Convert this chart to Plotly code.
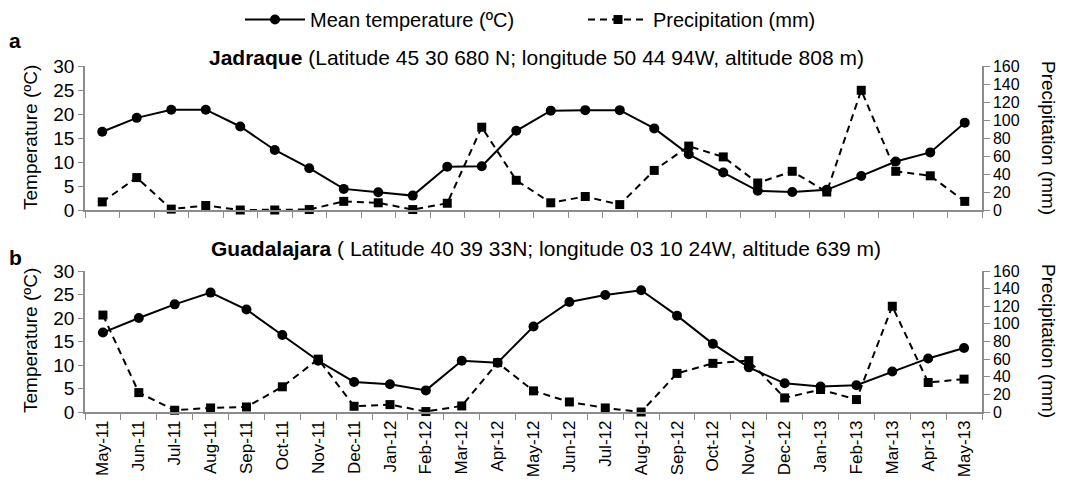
import plotly.graph_objects as go

# ---------------- data ----------------
months = ["May-11", "Jun-11", "Jul-11", "Aug-11", "Sep-11", "Oct-11", "Nov-11",
          "Dec-11", "Jan-12", "Feb-12", "Mar-12", "Apr-12", "May-12", "Jun-12",
          "Jul-12", "Aug-12", "Sep-12", "Oct-12", "Nov-12", "Dec-12", "Jan-13",
          "Feb-13", "Mar-13", "Apr-13", "May-13"]

# Jadraque panel (26 unlabelled sampling points)
jad_index = list(range(1, 27))
jad_temp = [16.3, 19.2, 20.9, 20.9, 17.4, 12.5, 8.7, 4.4, 3.7, 3.0, 9.0, 9.1, 16.5,
            20.7, 20.8, 20.8, 17.0, 11.6, 7.8, 4.0, 3.75, 4.2, 7.1, 10.1, 12.0, 18.2]
jad_prec = [9, 36, 1, 5, 0, 0, 0.5, 9.6, 8, 0.5, 7.5, 92, 33,
            8, 15, 6, 44, 71, 59, 30, 43, 20, 133, 43, 38, 9.6]

# Guadalajara panel
guad_temp = [16.9, 20.0, 22.9, 25.4, 21.8, 16.4, 10.9, 6.4, 5.9, 4.6, 10.9, 10.5, 18.2,
             23.4, 24.9, 25.9, 20.5, 14.5, 9.5, 6.1, 5.4, 5.7, 8.6, 11.4, 13.6]
guad_prec = [110, 22, 2, 4.6, 5.7, 28.6, 60, 6.5, 8.4, 0.5, 6.9, 56, 24,
             11.4, 4.6, 0, 43.8, 55.2, 58.3, 16, 25.5, 14.1, 120, 33.5, 37.3]

temp_ticks = [0, 5, 10, 15, 20, 25, 30]
prec_ticks = [0, 20, 40, 60, 80, 100, 120, 140, 160]

# ---------------- styling ----------------
W, H = 1066, 487
FONT = "Liberation Sans, Arial, sans-serif"
AX = "#8c8c8c"
X0, X1 = 85 / W, 982 / W
TOP = [(H - 210) / H, (H - 66) / H]
BOT = [(H - 412) / H, (H - 271) / H]

temp_line = dict(color="black", width=2)
prec_line = dict(color="black", width=2, dash="7px,5px")
circ = dict(symbol="circle", size=10, color="black")
sq = dict(symbol="square", size=9, color="black")

fig = go.Figure()

# top panel (Jadraque)
fig.add_trace(go.Scatter(x=jad_index, y=jad_temp, mode="lines+markers",
                         name="Mean temperature (ºC)", line=temp_line, marker=circ,
                         xaxis="x2", yaxis="y3", cliponaxis=False, showlegend=True))
fig.add_trace(go.Scatter(x=jad_index, y=jad_prec, mode="lines+markers",
                         name="Precipitation (mm)", line=prec_line, marker=sq,
                         xaxis="x2", yaxis="y4", cliponaxis=False, showlegend=True))
# bottom panel (Guadalajara)
fig.add_trace(go.Scatter(x=months, y=guad_temp, mode="lines+markers",
                         name="Mean temperature (ºC)", line=temp_line, marker=circ,
                         xaxis="x", yaxis="y", cliponaxis=False, showlegend=False))
fig.add_trace(go.Scatter(x=months, y=guad_prec, mode="lines+markers",
                         name="Precipitation (mm)", line=prec_line, marker=sq,
                         xaxis="x", yaxis="y2", cliponaxis=False, showlegend=False))

left_axis = dict(range=[0, 30], tickvals=temp_ticks, showgrid=False, zeroline=False,
                 showline=True, linecolor=AX, linewidth=1.5, ticks="outside",
                 ticklen=5, tickcolor=AX, tickfont=dict(size=19, color="black", family=FONT))
right_axis = dict(range=[0, 160], tickvals=prec_ticks, showgrid=False, zeroline=False,
                  showline=True, linecolor=AX, linewidth=1.5, ticks="outside",
                  ticklen=6, tickcolor=AX, side="right",
                  tickfont=dict(size=16, color="black", family=FONT))

fig.update_layout(
    width=W, height=H,
    margin=dict(l=0, r=0, t=0, b=0, autoexpand=False),
    paper_bgcolor="white", plot_bgcolor="white",
    font=dict(family=FONT, color="black"),
    xaxis=dict(domain=[X0, X1], anchor="y", type="category", range=[-0.5, 24.5],
               tickson="boundaries", ticks="outside", ticklen=6, tickcolor=AX,
               showline=True, linecolor=AX, linewidth=1.5, showgrid=False,
               tickangle=-90, tickfont=dict(size=17, color="black", family=FONT)),
    yaxis=dict(domain=BOT, anchor="x", **left_axis),
    yaxis2=dict(domain=BOT, anchor="x", overlaying="y", **right_axis),
    xaxis2=dict(domain=[X0, X1], anchor="y3", range=[0.5, 26.5], tick0=0.5, dtick=1,
                ticks="outside", ticklen=6, tickcolor=AX, showticklabels=False,
                showline=True, linecolor=AX, linewidth=1.5, showgrid=False, zeroline=False),
    yaxis3=dict(domain=TOP, anchor="x2", **left_axis),
    yaxis4=dict(domain=TOP, anchor="x2", overlaying="y3", **right_axis),
    legend=dict(orientation="h", x=240 / W, xanchor="left", y=1, yanchor="top",
                font=dict(size=20, family=FONT, color="black"),
                itemwidth=60, entrywidth=268, entrywidthmode="pixels",
                bgcolor="rgba(0,0,0,0)"),
    showlegend=True,
)

ann = []
ann.append(dict(text="<b>Jadraque</b> (Latitude 45 30 680 N; longitude 50 44 94W, altitude 808 m)",
                x=536 / W, y=1 - 58 / H, xref="paper", yref="paper", showarrow=False,
                xanchor="center", yanchor="middle", font=dict(size=21, family=FONT)))
ann.append(dict(text="<b>Guadalajara</b> ( Latitude 40 39 33N; longitude 03 10 24W, altitude 639 m)",
                x=546 / W, y=1 - 248 / H, xref="paper", yref="paper", showarrow=False,
                xanchor="center", yanchor="middle", font=dict(size=21, family=FONT)))
ann.append(dict(text="<b>a</b>", x=15 / W, y=1 - 40 / H, xref="paper", yref="paper",
                showarrow=False, xanchor="center", yanchor="middle", font=dict(size=21, family=FONT)))
ann.append(dict(text="<b>b</b>", x=15 / W, y=1 - 257 / H, xref="paper", yref="paper",
                showarrow=False, xanchor="center", yanchor="middle", font=dict(size=21, family=FONT)))
for yc in (138, 341):
    ann.append(dict(text="Temperature (ºC)", x=30 / W, y=1 - yc / H, xref="paper", yref="paper",
                    showarrow=False, textangle=-90, xanchor="center", yanchor="middle",
                    font=dict(size=19, family=FONT)))
    ann.append(dict(text="Precipitation (mm)", x=1049 / W, y=1 - yc / H, xref="paper", yref="paper",
                    showarrow=False, textangle=90, xanchor="center", yanchor="middle",
                    font=dict(size=19, family=FONT)))
fig.update_layout(annotations=ann)

fig.write_html("out.html")
